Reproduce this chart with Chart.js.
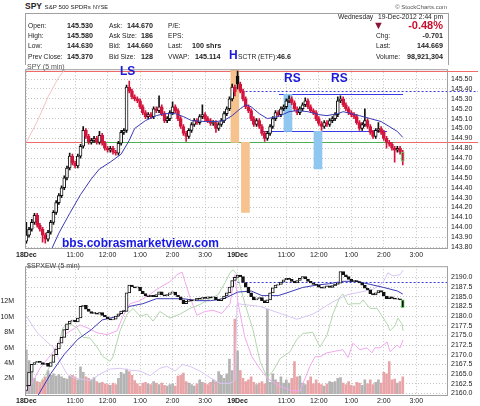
<!DOCTYPE html>
<html>
<head>
<meta charset="utf-8">
<script src="https://cdn.jsdelivr.net/npm/chart.js@4/dist/chart.umd.min.js"></script>
<style>
  body { margin: 0; background: #fff; width: 480px; height: 406px; overflow: hidden; position: relative;
         font-family: "Liberation Sans", Arial, sans-serif; }
  .t { position: absolute; white-space: nowrap; font-size: 6.7px; line-height: 10px; color: #222; z-index: 2; }
  #box { position: absolute; left: 25px; top: 13px; width: 422px; height: 51px; border: 1px solid #a0a0a0; border-bottom: none; }
  canvas { position: absolute; left: 0; }
  .mark { position: absolute; color: #1a1ad8; font-weight: bold; z-index: 3; white-space: nowrap; }
</style>
</head>
<body>
<div id="box"></div>
<canvas id="spy" width="480" height="199" style="top:62px"></canvas>
<canvas id="spxew" width="480" height="147" style="top:259px"></canvas>
<div class="mark" style="left:120px;top:64px;font-size:12px">LS</div>
<div class="mark" style="left:284px;top:71px;font-size:12px">RS</div>
<div class="mark" style="left:331px;top:71px;font-size:12px">RS</div>
<div class="mark" style="left:229px;top:48px;font-size:12px">H</div>
<div class="mark" style="left:62px;top:236px;font-size:12px;color:#1818e6">bbs.cobrasmarketview.com</div>
<script>
// time axis: bar index -> label (5 min bars, 18Dec 9:30 = 0, 19Dec 9:30 = 78)
const timeTickIdx = [0, 18, 30, 42, 54, 66, 78, 96, 108, 120, 132, 144];
const timeTickLabels = ['18Dec', '11:00', '12:00', '1:00', '2:00', '3:00', '19Dec', '11:00', '12:00', '1:00', '2:00', '3:00'];
const spyPriceTicks = [143.8, 143.9, 144.0, 144.1, 144.2, 144.3, 144.4, 144.5, 144.6, 144.7, 144.8, 144.9,
                       145.0, 145.1, 145.2, 145.3, 145.4, 145.5];
const spxewTicks = [2160, 2162.5, 2165, 2167.5, 2170, 2172.5, 2175, 2177.5, 2180, 2182.5, 2185, 2187.5, 2190];
const volTicks = [2, 4, 6, 8, 10, 12];

// SPY 5 min candles
const spyOpen = [143.86,143.92,143.98,144.05,144.12,144.02,143.98,143.92,143.88,143.95,
 144.05,144.15,144.25,144.32,144.40,144.50,144.60,144.72,144.65,144.62,
 144.72,144.82,144.98,144.92,144.86,144.88,144.90,144.86,144.93,144.85,
 144.80,144.78,144.80,144.76,144.75,144.85,144.96,144.98,145.42,145.38,
 145.32,145.30,145.28,145.22,145.16,145.12,145.14,145.12,145.20,145.18,
 145.22,145.15,145.08,145.10,145.16,145.22,145.18,145.10,145.02,144.95,
 144.92,144.98,145.04,145.08,145.06,145.12,145.14,145.10,145.08,145.05,
 145.06,145.00,145.04,145.08,145.15,145.20,145.30,145.42,
 145.53,145.45,145.38,145.30,145.22,145.18,145.10,145.04,145.08,145.02,
 144.95,144.90,144.95,145.02,145.10,145.16,145.14,145.20,145.22,145.28,
 145.30,145.26,145.20,145.16,145.20,145.24,145.28,145.22,145.18,145.16,
 145.10,145.05,145.02,145.06,145.04,145.08,145.10,145.14,145.28,145.30,
 145.24,145.20,145.16,145.14,145.12,145.06,145.00,145.04,145.08,145.02,
 144.96,144.92,144.98,145.00,144.96,144.90,144.86,144.84,144.80,144.78,
 144.80,144.76];
const spyHigh = [144.05,144.00,144.08,144.14,144.14,144.04,144.00,143.94,143.97,144.07,
 144.17,144.27,144.34,144.42,144.52,144.62,144.75,144.74,144.67,144.74,
 144.84,145.02,145.00,144.94,144.90,144.92,144.92,144.97,144.95,144.87,
 144.82,144.82,144.82,144.78,144.87,144.98,145.00,145.44,145.48,145.40,
 145.34,145.32,145.30,145.24,145.18,145.16,145.16,145.22,145.22,145.33,
 145.24,145.17,145.12,145.18,145.27,145.24,145.20,145.12,145.04,144.97,
 145.00,145.06,145.10,145.10,145.14,145.24,145.16,145.12,145.10,145.08,
 145.08,145.06,145.10,145.17,145.22,145.32,145.45,145.44,
 145.58,145.47,145.40,145.32,145.24,145.20,145.12,145.10,145.10,145.04,
 144.97,144.97,145.04,145.12,145.18,145.18,145.22,145.24,145.30,145.33,
 145.32,145.28,145.22,145.22,145.26,145.31,145.30,145.24,145.20,145.18,
 145.12,145.07,145.08,145.08,145.10,145.12,145.16,145.32,145.33,145.32,
 145.26,145.22,145.18,145.16,145.14,145.08,145.06,145.20,145.10,145.04,
 144.98,145.00,145.06,145.02,144.98,144.92,144.88,144.86,144.82,144.82,
 144.82,144.78];
const spyLow = [143.84,143.90,143.96,144.03,144.00,143.96,143.85,143.84,143.86,143.93,
 144.03,144.13,144.23,144.30,144.38,144.48,144.58,144.63,144.60,144.60,
 144.70,144.80,144.90,144.84,144.84,144.86,144.84,144.84,144.83,144.78,
 144.76,144.76,144.74,144.73,144.73,144.83,144.94,144.96,145.36,145.30,
 145.28,145.26,145.20,145.14,145.10,145.10,145.10,145.10,145.16,145.16,
 145.13,145.06,145.06,145.08,145.14,145.16,145.08,145.00,144.93,144.87,
 144.90,144.96,145.02,145.04,145.04,145.10,145.08,145.06,145.03,145.03,
 144.96,144.98,145.02,145.06,145.13,145.18,145.28,145.33,
 145.40,145.36,145.28,145.20,145.16,145.08,145.02,145.02,145.00,144.93,
 144.87,144.88,144.93,145.00,145.08,145.12,145.12,145.18,145.20,145.26,
 145.24,145.18,145.14,145.14,145.18,145.22,145.20,145.16,145.14,145.08,
 145.03,144.98,145.00,145.02,145.02,145.06,145.08,145.12,145.26,145.22,
 145.18,145.14,145.12,145.10,145.04,144.98,144.98,145.02,145.00,144.94,
 144.90,144.90,144.96,144.94,144.88,144.80,144.82,144.78,144.66,144.76,
 144.74,144.63];
const spyClose = [143.92,143.98,144.05,144.12,144.02,143.98,143.92,143.88,143.95,144.05,
 144.15,144.25,144.32,144.40,144.50,144.60,144.72,144.65,144.62,144.72,
 144.82,144.98,144.92,144.86,144.88,144.90,144.86,144.93,144.85,144.80,
 144.78,144.80,144.76,144.75,144.85,144.96,144.98,145.42,145.38,145.32,
 145.30,145.28,145.22,145.16,145.12,145.14,145.12,145.20,145.18,145.22,
 145.15,145.08,145.10,145.16,145.22,145.18,145.10,145.02,144.95,144.92,
 144.98,145.04,145.08,145.06,145.12,145.14,145.10,145.08,145.05,145.06,
 145.00,145.04,145.08,145.15,145.20,145.30,145.42,145.37,
 145.45,145.38,145.30,145.22,145.18,145.10,145.04,145.08,145.02,144.95,
 144.90,144.95,145.02,145.10,145.16,145.14,145.20,145.22,145.28,145.30,
 145.26,145.20,145.16,145.20,145.24,145.28,145.22,145.18,145.16,145.10,
 145.05,145.02,145.06,145.04,145.08,145.10,145.14,145.28,145.30,145.24,
 145.20,145.16,145.14,145.12,145.06,145.00,145.04,145.08,145.02,144.96,
 144.92,144.98,145.00,144.96,144.90,144.86,144.84,144.80,144.78,144.80,
 144.76,144.67];

// SPY moving average and faint overlay (bar index, price)
const spyMaIdx = [9,12,16,20,24,27,31,35,38,40,44,48,51,55,58,61,66,70,73,76,
 79,81,83,86,89,93,97,100,104,108,111,115,117,120,123,127,131,134,137,139];
const spyMaVal = [143.76,143.94,144.14,144.33,144.49,144.59,144.66,144.74,144.88,145.00,
 145.08,145.13,145.15,145.15,145.12,145.08,145.07,145.07,145.08,145.13,
 145.20,145.24,145.22,145.15,145.10,145.12,145.17,145.18,145.17,145.14,
 145.13,145.15,145.17,145.15,145.13,145.10,145.07,145.02,144.97,144.91];
const spyOverlayIdx = [0, 4, 8, 12, 16];
const spyOverlayVal = [144.86, 145.07, 145.32, 145.52, 145.65];

// drawn levels and shaded zones on the SPY panel
const dayHigh = 145.58, neckline = 144.86, priorTop = 145.38, rsTop = 145.345, rsBase = 144.97;
const necklineIdx = [20.5, 136.1], rsTopIdx = [93.3, 139.1], rsBaseIdx = [87, 133.2], priorTopFrom = 78;
const zoneIdx = [77.0, 80.9, 96.6, 107.7];
const zoneLow = [144.86, 144.15, 144.97, 144.59];
const zoneHigh = [145.60, 144.86, 145.345, 144.97];

// $SPXEW 5 min candles
const spxewOpen = [2160.8,2162.0,2165.5,2167.5,2168.0,2168.3,2168.0,2167.5,2167.8,2167.0,
 2168.0,2170.0,2171.5,2173.0,2174.5,2176.5,2178.0,2178.7,2179.0,2178.5,
 2179.5,2182.5,2182.8,2181.8,2181.2,2180.7,2180.8,2180.5,2180.9,2180.2,
 2179.8,2179.3,2179.0,2179.2,2180.0,2180.6,2181.3,2181.2,2186.0,2188.0,
 2187.6,2187.3,2187.5,2186.5,2185.8,2185.2,2185.0,2185.4,2185.0,2185.6,
 2186.3,2185.5,2185.2,2185.6,2186.0,2186.2,2185.4,2185.0,2184.2,2183.2,
 2183.8,2184.2,2183.9,2184.2,2184.6,2184.4,2184.8,2184.6,2185.0,2184.7,
 2184.9,2184.2,2184.0,2184.5,2185.2,2186.0,2187.5,2189.2,
 2190.0,2190.6,2190.2,2188.7,2187.5,2186.0,2185.0,2184.2,2184.5,2184.8,
 2184.0,2183.5,2184.2,2186.0,2187.3,2188.0,2188.2,2188.8,2189.4,2189.8,
 2189.5,2189.0,2188.6,2189.2,2189.8,2190.2,2189.6,2189.0,2188.6,2188.2,
 2188.0,2187.5,2187.2,2187.6,2187.8,2187.4,2187.9,2188.2,2188.5,2191.5,
 2190.7,2190.2,2189.5,2189.0,2189.2,2188.9,2188.6,2188.0,2187.2,2186.8,
 2185.8,2185.5,2186.0,2186.6,2186.2,2185.2,2184.5,2185.0,2184.6,2184.4,
 2184.5,2184.2];
const spxewClose = [2162.0,2165.5,2167.5,2168.0,2168.3,2168.0,2167.5,2167.8,2167.0,2168.0,
 2170.0,2171.5,2173.0,2174.5,2176.5,2178.0,2178.7,2179.0,2178.5,2179.5,
 2182.5,2182.8,2181.8,2181.2,2180.7,2180.8,2180.5,2180.9,2180.2,2179.8,
 2179.3,2179.0,2179.2,2180.0,2180.6,2181.3,2181.2,2186.0,2188.0,2187.6,
 2187.3,2187.5,2186.5,2185.8,2185.2,2185.0,2185.4,2185.0,2185.6,2186.3,
 2185.5,2185.2,2185.6,2186.0,2186.2,2185.4,2185.0,2184.2,2183.2,2183.8,
 2184.2,2183.9,2184.2,2184.6,2184.4,2184.8,2184.6,2185.0,2184.7,2184.9,
 2184.2,2184.0,2184.5,2185.2,2186.0,2187.5,2189.2,2190.0,
 2190.6,2190.2,2188.7,2187.5,2186.0,2185.0,2184.2,2184.5,2184.8,2184.0,
 2183.5,2184.2,2186.0,2187.3,2188.0,2188.2,2188.8,2189.4,2189.8,2189.5,
 2189.0,2188.6,2189.2,2189.8,2190.2,2189.6,2189.0,2188.6,2188.2,2188.0,
 2187.5,2187.2,2187.6,2187.8,2187.4,2187.9,2188.2,2188.5,2191.5,2190.7,
 2190.2,2189.5,2189.0,2189.2,2188.9,2188.6,2188.0,2187.2,2186.8,2185.8,
 2185.5,2186.0,2186.6,2186.2,2185.2,2184.5,2185.0,2184.6,2184.4,2184.5,
 2184.2,2182.2];
const spxewRef = 2188.9;

// SPY volume, millions
const volumeM = [5.7,4.3,3.2,2.0,1.6,1.5,1.8,2.2,3.0,2.4,
 2.6,2.3,2.5,2.2,2.0,1.9,2.3,2.4,2.2,1.8,
 3.5,2.8,2.2,2.0,1.8,2.1,1.6,1.4,1.5,1.3,
 1.2,1.1,1.4,1.2,2.0,2.8,2.6,3.2,2.9,2.4,
 1.7,1.3,1.0,1.4,1.5,1.3,1.2,1.6,1.4,1.2,
 1.4,1.1,1.0,1.2,1.3,1.0,2.3,2.4,2.7,1.6,
 1.4,1.2,1.0,1.3,1.8,1.5,1.4,1.2,1.5,1.8,
 1.6,2.9,2.4,2.0,2.6,4.5,3.0,9.7,
 5.6,3.0,2.0,1.6,1.8,2.2,1.5,1.2,1.4,1.6,
 1.3,11.0,1.5,2.6,1.8,1.5,2.2,1.4,1.8,1.4,
 2.0,4.2,2.2,2.3,1.4,1.2,1.7,2.2,1.3,1.8,
 1.4,1.2,1.0,1.3,1.6,1.5,1.6,2.0,2.1,1.4,
 1.2,1.6,1.1,1.0,1.5,1.4,1.1,1.8,1.3,1.8,
 1.2,1.5,1.8,1.4,2.8,2.6,4.2,1.8,1.9,1.4,
 1.6,2.2];

// lower panel lines (bar index, value)
const spxewMaIdx = [4,9,14,19,24,28,34,38,43,48,53,58,63,68,73,78,83,87,93,97,102,107,112,117,122,127,132,137,139];
const spxewMaVal = [2159.1,2165.1,2170.1,2174.0,2176.5,2179.0,2180.0,2182.5,2183.2,2184.5,
 2184.5,2184.5,2184.0,2184.0,2184.5,2186.2,2186.5,2185.3,2185.3,2186.2,
 2187.4,2188.0,2188.4,2189.0,2189.0,2188.2,2187.4,2186.5,2185.7];
const pinkIdx = [0,5,10,13.5,19.8,22.4,26.1,29.8,33.5,35.7,38.3,42,45.7,49.3,53,55.6,57.5,58.6,60.4,63,66,68.9,72.2,75.2,77,
 78.2,80.7,83.3,86.3,89.2,92.9,97.4,101,104.7,106.6,108.4,111,113.2,116.9,118.8,120.6,123.2,125.8,127.6,128.7,130.6,133.2,134.3,136.9,138,139.1];
const pinkVal = [2160.0,2166.5,2170.8,2175.0,2177.7,2177.0,2175.7,2175.2,2176.2,2180.0,2183.2,2184.0,2185.7,2187.4,2188.9,2190.7,2191.4,2188.9,2184.9,2180.2,2181.2,2181.5,2180.7,2183.2,2190.7,
 2183.2,2174.5,2169.5,2166.3,2163.8,2162.1,2160.8,2160.6,2167.0,2169.5,2169.5,2170.5,2170.8,2171.3,2169.3,2173.0,2171.3,2171.8,2170.5,2171.8,2171.8,2173.3,2170.8,2172.5,2171.8,2173.8];
const greenIdx = [4,7.6,11.3,13.5,16.1,18.7,20.9,23.5,26.1,28.3,30.9,32,34.6,37.2,39.4,42,44.6,46.8,49.3,53,56.7,60.4,64.1,67.8,70.8,73.4,75.2,76.3,
 77.8,80.7,83.7,86.3,88.9,91.1,93.7,97.4,99.9,102.2,105.8,108.4,111,113.2,115.8,116.9,118.8,120.6,123.2,124.3,126.9,129.5,133.2,134.3,136.1,137.2,138.7,139.1];
const greenVal = [2161.3,2165.5,2171.3,2177.0,2178.0,2177.0,2174.5,2174.3,2172.0,2169.5,2168.3,2169.5,2176.2,2180.5,2182.0,2180.0,2180.5,2178.7,2181.2,2179.5,2180.5,2182.0,2183.0,2184.5,2185.5,2188.7,2191.2,2192.0,
 2190.7,2183.2,2176.5,2168.3,2164.1,2165.8,2169.0,2170.8,2174.0,2175.5,2175.8,2172.0,2175.0,2180.5,2185.0,2185.7,2183.0,2183.2,2183.2,2184.2,2182.0,2182.0,2178.0,2176.2,2177.5,2179.5,2178.0,2176.2];
const lavIdx = [0,3.9,7.6,9.8,12.4,15,17.2,23.5,27.2,30.9,34.6,38.3,42,45.7,49.3,51.9,54.9,57.8,60.4,64.1,67.8,71.5,75.2,77,
 77.8,86.3,93.7,99.9,105.8,113.2,118.4,128,131.7,133.5,135.4,138,139.1];
const lavVal = [2180.0,2175.8,2173.3,2172.0,2168.3,2165.0,2164.1,2163.3,2165.0,2166.3,2166.5,2166.0,2165.8,2164.6,2166.5,2167.0,2165.8,2167.5,2167.0,2165.8,2164.1,2162.6,2162.6,2163.3,
 2183.2,2182.5,2180.7,2179.2,2180.5,2183.7,2185.5,2186.9,2188.7,2191.2,2190.4,2190.7,2191.9];

// ---------- header text ----------
function put(text, x, y, style, right) {
  const d = document.createElement('div');
  d.className = 't';
  d.textContent = text;
  if (right) d.style.right = (480 - x) + 'px'; else d.style.left = x + 'px';
  d.style.top = y + 'px';
  if (style) d.style.cssText += style;
  document.body.appendChild(d);
}
const B = 'font-weight:bold;font-size:7.2px;';
put('SPY', 25, 1, 'font-weight:bold;font-size:8.5px;');
put('S&P 500 SPDRs', 44.5, 1.5, 'font-size:6.2px;');
put('NYSE', 93, 2, 'font-size:5.5px;');
put('\u00a9 StockCharts.com', 447, 1.5, 'font-size:6px;color:#555;', true);
put('Wednesday', 338, 12); put('19-Dec-2012', 378, 12); put('2:44 pm', 443, 12, '', true);
put('Open:', 28, 21); put('145.530', 93, 21, B, true);
put('High:', 28, 31); put('145.580', 93, 31, B, true);
put('Low:', 28, 41); put('144.630', 93, 41, B, true);
put('Prev Close:', 28, 52); put('145.370', 93, 52, B, true);
put('Ask:', 109, 21); put('144.670', 153, 21, B, true);
put('Ask Size:', 109, 31); put('186', 153, 31, B, true);
put('Bid:', 109, 41); put('144.660', 153, 41, B, true);
put('Bid Size:', 109, 52); put('128', 153, 52, B, true);
put('P/E:', 168, 21); put('EPS:', 168, 31);
put('Last:', 168, 41); put('100 shrs', 192, 41, B);
put('VWAP:', 168, 52); put('145.114', 195, 52, B);
put('SCTR (ETF):', 238, 52); put('46.6', 277, 52, B);
put('\u25bc', 373, 20, 'font-size:11px;color:#8b1535;');
put('-0.48%', 443, 19.5, 'font-weight:bold;font-size:11px;color:#c8102e;', true);
put('Chg:', 376, 31); put('-0.701', 443, 31, B, true);
put('Last:', 376, 41); put('144.669', 443, 41, B, true);
put('Volume:', 376, 52); put('98,921,304', 443, 52, B, true);
put('SPY (5 min)', 27, 62, 'font-size:7px;color:#555;');
put('$SPXEW (5 min)', 27, 261, 'font-size:7px;color:#444;');

// ---------- charts ----------
Chart.defaults.font.family = '"Liberation Sans", Arial, sans-serif';
Chart.defaults.font.size = 7;
Chart.defaults.color = '#222';

const bars = spyClose.map((_, i) => i);
const RED = '#d4143c', BLACK = '#111';
const spyCol = spyClose.map((c, i) => c >= (i ? spyClose[i - 1] : spyOpen[i]) ? BLACK : RED);
const spyFill = spyClose.map((c, i) => c > spyOpen[i] ? '#fff' : spyCol[i]);
const spyEdge = spyCol.map((c, i) => i === bars.length - 1 ? '#6ccf6c' : c);
const volCol = spyCol.map(c => c === RED ? '#e9a4a8' : '#b3b3b3');
const exFill = spxewClose.map((c, i) => c > spxewOpen[i] ? '#fff' : BLACK);
const exEdge = bars.map(i => i === bars.length - 1 ? '#6ccf6c' : BLACK);

const pts = (xs, ys) => xs.map((x, i) => ({ x, y: ys[i] }));
const gridOpts = { color: '#c4c4c4', drawTicks: false };
const xAxis = (h, pad) => ({
  type: 'linear', min: -0.5, max: 155.7, offset: false,
  grid: { ...gridOpts, offset: false }, border: { display: false, dash: [1, 2] },
  afterBuildTicks: s => { s.ticks = timeTickIdx.map(v => ({ value: v })); },
  afterFit: s => { s.height = h; },
  ticks: {
    autoSkip: false, maxRotation: 0, padding: pad, color: '#222',
    callback: v => timeTickLabels[timeTickIdx.indexOf(v)],
    font: c => ({ size: 7, weight: c.index === 0 || c.index === 6 ? 'bold' : 'normal' })
  }
});

const frame = {
  id: 'frame',
  afterDraw(chart) {
    const { ctx, chartArea: a } = chart;
    ctx.save();
    ctx.strokeStyle = '#a0a0a0';
    ctx.lineWidth = 1;
    ctx.strokeRect(a.left + 0.5, a.top + 0.5, a.right - a.left - 1, a.bottom - a.top - 1);
    ctx.restore();
  }
};

function hline(chart, v, i0, i1, color, dash, yId) {
  const { ctx, chartArea: a, scales } = chart;
  const py = Math.round(scales[yId || 'y'].getPixelForValue(v)) + 0.5;
  const x0 = i0 === null ? a.left : scales.x.getPixelForValue(i0);
  const x1 = i1 === null ? chart.width - 2 : i1 === 'area' ? a.right : scales.x.getPixelForValue(i1);
  ctx.beginPath();
  ctx.setLineDash(dash || []);
  ctx.strokeStyle = color;
  ctx.lineWidth = 1;
  ctx.moveTo(x0, py);
  ctx.lineTo(x1, py);
  ctx.stroke();
}

const spyLevels = {
  id: 'spyLevels',
  beforeDatasetsDraw(chart) {
    chart.ctx.save();
    hline(chart, dayHigh, null, null, '#f06a6a');
    hline(chart, neckline, null, null, '#f06a6a');
    hline(chart, neckline, necklineIdx[0], necklineIdx[1], '#4fae4f');
    hline(chart, priorTop, priorTopFrom, null, '#3a3ad8', [2, 2]);
    hline(chart, rsTop, rsTopIdx[0], rsTopIdx[1], '#3a3ae6');
    hline(chart, rsBase, rsBaseIdx[0], rsBaseIdx[1], '#3a3ae6');
    chart.ctx.restore();
  }
};

const spxewLevels = {
  id: 'spxewLevels',
  beforeDatasetsDraw(chart) {
    chart.ctx.save();
    hline(chart, spxewRef, priorTopFrom, 'area', '#3a3ad8', [2, 2], 'px');
    chart.ctx.restore();
  }
};

const yTicks = (list, fmt) => ({
  afterBuildTicks: s => { s.ticks = list.map(v => ({ value: v })); },
  ticks: { autoSkip: false, padding: 3, color: '#222', callback: fmt }
});

new Chart(document.getElementById('spy'), {
  type: 'bar',
  data: {
    datasets: [
      { data: zoneIdx.map((x, i) => ({ x, y: [zoneLow[i], zoneHigh[i]] })),
        backgroundColor: ['#f6c28e', '#f6c28e', '#8fc7f1', '#8fc7f1'],
        barThickness: 8, grouped: false, order: 10 },
      { type: 'line', data: pts(spyOverlayIdx, spyOverlayVal), borderColor: '#f5c2c2',
        borderWidth: 1, pointRadius: 0, order: 9 },
      { data: bars.map(i => ({ x: i, y: [spyLow[i], spyHigh[i]] })), backgroundColor: spyCol,
        barThickness: 1, grouped: false, order: 3 },
      { data: bars.map(i => ({ x: i, y: [spyOpen[i], spyClose[i]] })), backgroundColor: spyFill,
        borderColor: spyEdge, borderWidth: 1, borderSkipped: false, barThickness: 3,
        minBarLength: 1, grouped: false, order: 2 },
      { type: 'line', data: pts(spyMaIdx, spyMaVal), borderColor: '#3b3bb5', borderWidth: 1,
        pointRadius: 0, order: 1 }
    ]
  },
  options: {
    responsive: false, animation: false, events: [],
    layout: { padding: { left: 25, top: 2, right: 0, bottom: 0 } },
    plugins: { legend: { display: false }, tooltip: { enabled: false } },
    scales: {
      x: xAxis(12, 2),
      y: {
        position: 'right', min: 143.78, max: 145.60,
        grid: gridOpts, border: { display: false, dash: [1, 2] },
        afterFit: s => { s.width = 32; },
        ...yTicks(spyPriceTicks, v => v.toFixed(2))
      }
    }
  },
  plugins: [spyLevels, frame]
});

new Chart(document.getElementById('spxew'), {
  type: 'bar',
  data: {
    datasets: [
      { data: bars.map(i => ({ x: i, y: volumeM[i] })), backgroundColor: volCol, yAxisID: 'vol',
        barThickness: 2, grouped: false, order: 10 },
      { type: 'line', data: pts(lavIdx, lavVal), borderColor: '#d8c6f4', borderWidth: 1,
        pointRadius: 0, yAxisID: 'px', order: 8 },
      { type: 'line', data: pts(greenIdx, greenVal), borderColor: '#b3d6ae', borderWidth: 1,
        pointRadius: 0, yAxisID: 'px', order: 7 },
      { type: 'line', data: pts(pinkIdx, pinkVal), borderColor: '#f2a8ee', borderWidth: 1,
        pointRadius: 0, yAxisID: 'px', order: 6 },
      { type: 'line', data: pts(spxewMaIdx, spxewMaVal), borderColor: '#3b3bb5', borderWidth: 1,
        pointRadius: 0, yAxisID: 'px', order: 3 },
      { data: bars.map(i => ({ x: i, y: [spxewOpen[i], spxewClose[i]] })), backgroundColor: exFill,
        borderColor: exEdge, borderWidth: 1, borderSkipped: false, barThickness: 3, minBarLength: 1,
        yAxisID: 'px', grouped: false, order: 2 }
    ]
  },
  options: {
    responsive: false, animation: false, events: [],
    layout: { padding: { left: 0, top: 2, right: 0, bottom: 0 } },
    plugins: { legend: { display: false }, tooltip: { enabled: false } },
    scales: {
      x: xAxis(10, 1),
      vol: {
        position: 'left', min: -0.29, max: 16.59,
        grid: { display: false }, border: { display: false },
        afterFit: s => { s.width = 25; },
        ...yTicks(volTicks, v => v + 'M')
      },
      px: {
        position: 'right', min: 2159.33, max: 2192.91,
        grid: gridOpts, border: { display: false, dash: [1, 2] },
        afterFit: s => { s.width = 32; },
        ...yTicks(spxewTicks, v => v.toFixed(1))
      }
    }
  },
  plugins: [spxewLevels, frame]
});
</script>
</body>
</html>
